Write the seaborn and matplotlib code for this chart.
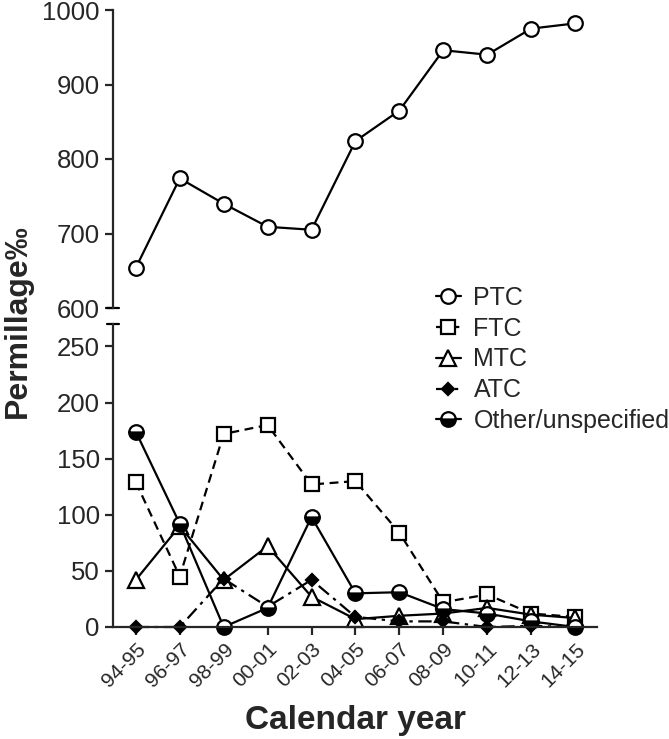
import numpy as np
import pandas as pd
import matplotlib
matplotlib.use("Agg")
import matplotlib.pyplot as plt
import seaborn as sns

years = ['94-95', '96-97', '98-99', '00-01', '02-03', '04-05',
         '06-07', '08-09', '10-11', '12-13', '14-15']
ptc = [654, 774, 740, 709, 705, 824, 865, 946, 940, 975, 982]
ftc = [129, 45, 172, 180, 127, 130, 84, 22, 29, 12, 9]
mtc = [42, 90, 42, 72, 27, 7, 10, 12, 17, 11, 8]
atc = [0, 0, 43, 18, 42, 9, 5, 5, 0, 1, 0]
other = [174, 92, 0, 17, 98, 30, 31, 16, 12, 5, 0]

sns.set_style("ticks")
plt.rcParams['font.family'] = ['Liberation Sans', 'DejaVu Sans']

df = pd.DataFrame({'x': np.arange(len(years)), 'PTC': ptc, 'FTC': ftc,
                   'MTC': mtc, 'ATC': atc, 'Other/unspecified': other})

fig = plt.figure(figsize=(6.69, 7.39), dpi=100)
left, right = 113 / 669, 597 / 669
ax_top = fig.add_axes([left, 1 - 308 / 739, right - left, (308 - 10) / 739])
ax_bot = fig.add_axes([left, 1 - 627 / 739, right - left, (627 - 324) / 739])

lw = 1.6
common = dict(color='black', linewidth=lw, markeredgecolor='black',
              markeredgewidth=1.6, clip_on=False, sort=False)

sns.lineplot(data=df, x='x', y='PTC', ax=ax_top, marker='o', markersize=10.5,
             markerfacecolor='white', linestyle='-', label='PTC', **common)

styles = [
    ('FTC', dict(marker='s', markersize=10, markerfacecolor='white', linestyle=(0, (4, 2.5)))),
    ('MTC', dict(marker='^', markersize=11, markerfacecolor='white', linestyle='-')),
    ('ATC', dict(marker='D', markersize=6.5, markerfacecolor='black', linestyle=(0, (6, 2.5, 1.5, 2.5)))),
    ('Other/unspecified', dict(marker='o', markersize=10.5, fillstyle='bottom',
                               markerfacecolor='black', markerfacecoloralt='white', linestyle='-')),
]
for name, st in styles:
    sns.lineplot(data=df, x='x', y=name, ax=ax_bot, label=name, **st, **common)

for ax in (ax_top, ax_bot):
    ax.set_xlim(-0.52, len(years) - 0.5)
    ax.set_xlabel('')
    ax.set_ylabel('')
    ax.tick_params(axis='y', labelsize=18.5, length=6, width=1.6, direction='out')
    ax.spines['left'].set_linewidth(1.6)
    ax.spines['right'].set_visible(False)
    ax.spines['top'].set_visible(False)
    if ax.get_legend():
        ax.get_legend().remove()

ax_top.set_ylim(600, 1000)
ax_top.set_yticks([600, 700, 800, 900, 1000])
ax_top.spines['bottom'].set_visible(False)
ax_top.set_xticks([])

ax_bot.set_ylim(0, 270)
ax_bot.set_yticks([0, 50, 100, 150, 200, 250])
ax_bot.spines['bottom'].set_linewidth(1.6)
ax_bot.set_xticks(np.arange(len(years)))
ax_bot.set_xticklabels(years, rotation=45, ha='right', rotation_mode='anchor', fontsize=15)
ax_bot.tick_params(axis='x', length=6, width=1.6, pad=3)

# break caps on the y axis
ax_top.plot([-0.012, 0.012], [0, 0], transform=ax_top.transAxes, color='black', lw=1.6, clip_on=False)
ax_bot.plot([-0.012, 0.012], [1, 1], transform=ax_bot.transAxes, color='black', lw=1.6, clip_on=False)

fig.text(18 / 669, 1 - 418 / 739, 'Permillage‰', rotation=90, ha='center', va='bottom',
         fontsize=23, fontweight='bold')
fig.text((113 + 597) / 2 / 669, 1 - 729 / 739, 'Calendar year', ha='center', va='baseline',
         fontsize=24, fontweight='bold')

handles = ax_top.get_lines()[:1] + [l for l in ax_bot.get_lines() if not l.get_label().startswith('_')]
fig.legend(handles=handles, labels=[h.get_label() for h in handles],
           loc='upper left', bbox_to_anchor=(436 / 669, 1 - 286 / 739),
           frameon=False, fontsize=18, handlelength=1.0, handletextpad=0.5,
           labelspacing=0.27, borderaxespad=0, borderpad=0)

fig.savefig('out.png', dpi=100)
